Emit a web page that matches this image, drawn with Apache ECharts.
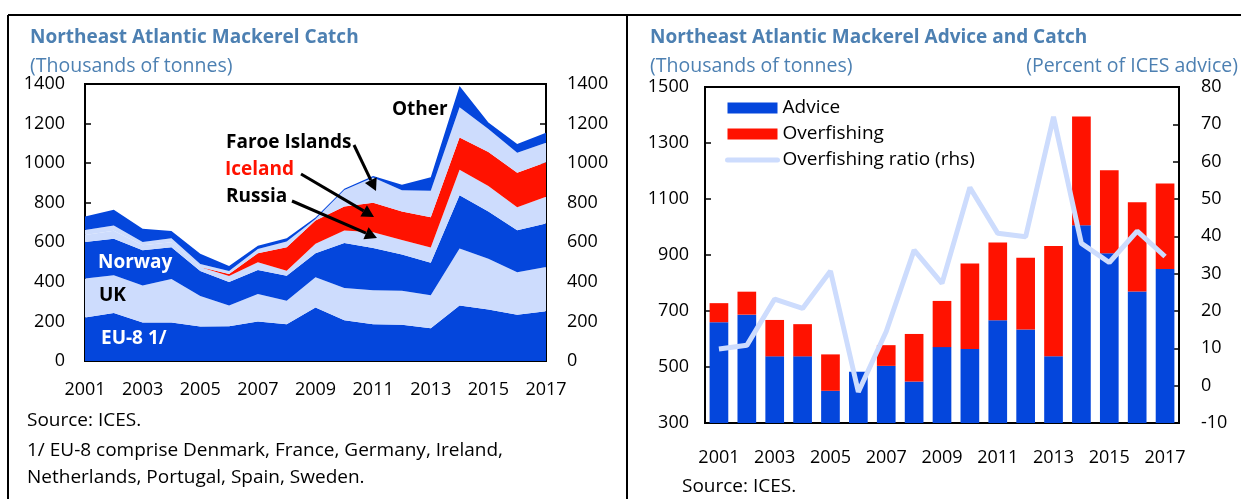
<!DOCTYPE html>
<html>
<head>
<meta charset="utf-8">
<script src="https://cdn.jsdelivr.net/npm/echarts@6/dist/echarts.min.js"></script>
<style>
    html, body { margin: 0; padding: 0; background: #fff; }
    #main { width: 1241px; height: 499px; }
</style>
</head>
<body>
<div id="main"></div>
<script>
// years on both x axes
var years = ['2001', '2002', '2003', '2004', '2005', '2006', '2007', '2008', '2009',
    '2010', '2011', '2012', '2013', '2014', '2015', '2016', '2017'];

// left chart: catch by country (thousands of tonnes), stacked bottom to top
var eu8 = [220, 242, 195, 195, 175, 176, 200, 186, 270, 206, 186, 183, 165, 280, 260, 234, 251];
var uk = [197, 192, 186, 219, 154, 105, 138, 118, 153, 163, 172, 172, 167, 289, 257, 215, 224];
var norway = [185, 184, 179, 161, 126, 118, 122, 127, 121, 228, 213, 183, 164, 269, 238, 212, 220];
var russia = [35, 40, 25, 25, 20, 31, 39, 25, 48, 62, 80, 74, 78, 129, 130, 116, 135];
var iceland = [0, 0, 0, 0, 0, 10, 45, 119, 118, 122, 149, 144, 152, 163, 171, 175, 175];
var faroe = [25, 27, 17, 20, 15, 15, 22, 29, 8, 83, 127, 107, 135, 153, 117, 100, 98];
var other = [68, 79, 67, 37, 52, 25, 17, 16, 7, 7, 8, 28, 68, 107, 33, 45, 50];

// right chart: advice and overfishing (thousands of tonnes), ratio (percent of advice)
var advice = [660, 687, 538, 538, 415, 483, 504, 448, 571, 564, 667, 634, 538, 1006, 906, 770, 850];
var overfishing = [68, 82, 130, 115, 130, 0, 74, 170, 165, 306, 278, 256, 394, 389, 297, 318, 305];
var ratio = [9.8, 10.8, 23.2, 20.7, 30.7, -1.7, 14.5, 36.3, 27.4, 53.1, 40.8, 39.9, 72, 38.1, 33, 41.4, 34.6];

// axis tick labels
var catchTicks = [0, 200, 400, 600, 800, 1000, 1200, 1400];
var adviceTicks = [300, 500, 700, 900, 1100, 1300, 1500];
var ratioTicks = [-10, 0, 10, 20, 30, 40, 50, 60, 70, 80];

var FONT = 'Open Sans';
var DARK = '#0446dc',
    LIGHT = '#cddcfd',
    RED = '#ff1200',
    TITLE = '#4d80b2';

// the bar axis starts at 300, so bars are measured from that base
var adviceBase = adviceTicks[0];

function plain(v) {
    return String(v);
}

function valueAxis(gridIndex, ticks, position, margin, fmt) {
    return {
        type: 'value',
        gridIndex: gridIndex,
        position: position,
        min: ticks[0],
        max: ticks[ticks.length - 1],
        interval: ticks[1] - ticks[0],
        axisLine: { show: false },
        axisTick: { show: true, inside: true, length: 6, lineStyle: { color: '#000', width: 1.5 } },
        splitLine: { show: false },
        axisLabel: {
            margin: margin,
            color: '#000',
            fontFamily: FONT,
            fontSize: 18,
            formatter: fmt || plain
        }
    };
}

function area(name, data, color) {
    return {
        name: name,
        type: 'line',
        stack: 'catch',
        xAxisIndex: 0,
        yAxisIndex: 0,
        data: data,
        symbol: 'none',
        lineStyle: { width: 0 },
        areaStyle: { color: color, opacity: 1 },
        emphasis: { disabled: true }
    };
}

function text(x, y, str, opt) {
    opt = opt || {};
    return {
        type: 'text',
        x: x,
        y: y,
        z: 100,
        style: {
            text: str,
            fill: opt.color || '#000',
            fontFamily: FONT,
            fontSize: opt.size || 19,
            fontWeight: opt.bold ? 'bold' : 'normal',
            align: opt.align || 'left',
            verticalAlign: 'middle'
        }
    };
}

// black arrow: shaft + triangular head
function arrow(x1, y1, x2, y2) {
    var a = Math.atan2(y2 - y1, x2 - x1),
        len = 12,
        w = 6.5,
        bx = x2 - len * Math.cos(a),
        by = y2 - len * Math.sin(a);
    return [{
        type: 'line',
        z: 100,
        shape: { x1: x1, y1: y1, x2: bx, y2: by },
        style: { stroke: '#000', lineWidth: 3 }
    }, {
        type: 'polygon',
        z: 100,
        shape: {
            points: [[x2, y2],
                [bx + w * Math.sin(a), by - w * Math.cos(a)],
                [bx - w * Math.sin(a), by + w * Math.cos(a)]]
        },
        style: { fill: '#000' }
    }];
}

var graphics = [
    // panel frames
    { type: 'line', shape: { x1: 8, y1: 15, x2: 1241, y2: 15 }, style: { stroke: '#000', lineWidth: 2 } },
    { type: 'line', shape: { x1: 8, y1: 15, x2: 8, y2: 499 }, style: { stroke: '#000', lineWidth: 2 } },
    { type: 'line', shape: { x1: 627, y1: 15, x2: 627, y2: 499 }, style: { stroke: '#000', lineWidth: 2 } },
    // left panel titles and notes
    text(30, 38, 'Northeast Atlantic Mackerel Catch', { color: TITLE, bold: true, size: 19 }),
    text(30, 66, '(Thousands of tonnes)', { color: TITLE, size: 19.5 }),
    text(27, 421, 'Source: ICES.'),
    text(27, 451, '1/ EU-8 comprise Denmark, France, Germany, Ireland,'),
    text(27, 478, 'Netherlands, Portugal, Spain, Sweden.'),
    // right panel titles and notes
    text(650, 38, 'Northeast Atlantic Mackerel Advice and Catch', { color: TITLE, bold: true, size: 19 }),
    text(650, 66, '(Thousands of tonnes)', { color: TITLE, size: 19.5 }),
    text(1238, 66, '(Percent of ICES advice)', { color: TITLE, size: 19.5, align: 'right' }),
    text(682, 487, 'Source: ICES.'),
    // area labels
    text(98, 263, 'Norway', { color: '#fff', bold: true }),
    text(99, 296, 'UK', { bold: true }),
    text(101, 339, 'EU-8 1/', { color: '#fff', bold: true }),
    text(226, 143, 'Faroe Islands', { bold: true }),
    text(225, 170, 'Iceland', { color: RED, bold: true }),
    text(226, 197, 'Russia', { bold: true }),
    text(392, 110, 'Other', { bold: true })
]
    .concat(arrow(354, 145, 376, 191))
    .concat(arrow(301, 174, 374, 217))
    .concat(arrow(292, 201, 377, 238));

var chart = echarts.init(document.getElementById('main'));
var option = {
    animation: false,
    textStyle: { fontFamily: FONT },
    grid: [{
        left: 85, top: 84, width: 461, height: 277,
        show: true, borderColor: '#000', borderWidth: 2, backgroundColor: 'transparent'
    }, {
        left: 705, top: 87, width: 474, height: 336,
        show: true, borderColor: '#000', borderWidth: 2, backgroundColor: 'transparent'
    }],
    legend: {
        left: 720,
        top: 93,
        orient: 'vertical',
        itemWidth: 50,
        itemHeight: 11,
        itemGap: 6,
        data: [
            { name: 'Advice', icon: 'rect' },
            { name: 'Overfishing', icon: 'rect' },
            {
                name: 'Overfishing ratio (rhs)',
                itemStyle: { opacity: 0 },
                lineStyle: { width: 5, color: LIGHT, cap: 'round' }
            }
        ],
        textStyle: { color: '#000', fontFamily: FONT, fontSize: 19, lineHeight: 20 }
    },
    xAxis: [{
        type: 'category',
        gridIndex: 0,
        data: years,
        boundaryGap: false,
        axisLine: { show: false },
        axisTick: { inside: true, length: 6, interval: 0, lineStyle: { color: '#000', width: 1.5 } },
        axisLabel: { interval: 1, margin: 20, color: '#000', fontFamily: FONT, fontSize: 18 }
    }, {
        type: 'category',
        gridIndex: 1,
        data: years,
        axisLine: { show: false },
        axisTick: { inside: true, length: 6, interval: 0, lineStyle: { color: '#000', width: 1.5 } },
        axisLabel: { interval: 1, margin: 26, color: '#000', fontFamily: FONT, fontSize: 18 }
    }],
    yAxis: [
        valueAxis(0, catchTicks, 'left', 20),
        valueAxis(0, catchTicks, 'right', 21),
        valueAxis(1, adviceTicks.map(function(v) { return v - adviceBase; }), 'left', 16, function(v) {
            return String(v + adviceBase);
        }),
        valueAxis(1, ratioTicks, 'right', 22)
    ],
    series: [
        area('EU-8', eu8, DARK),
        area('UK', uk, LIGHT),
        area('Norway', norway, DARK),
        area('Russia', russia, LIGHT),
        area('Iceland', iceland, RED),
        area('Faroe Islands', faroe, LIGHT),
        area('Other', other, DARK),
        {
            name: 'Advice',
            type: 'bar',
            stack: 'advice',
            xAxisIndex: 1,
            yAxisIndex: 2,
            barCategoryGap: '33%',
            itemStyle: { color: DARK },
            data: advice.map(function(v) { return v - adviceBase; })
        },
        {
            name: 'Overfishing',
            type: 'bar',
            stack: 'advice',
            xAxisIndex: 1,
            yAxisIndex: 2,
            barCategoryGap: '33%',
            itemStyle: { color: RED },
            data: overfishing
        },
        {
            name: 'Overfishing ratio (rhs)',
            type: 'line',
            xAxisIndex: 1,
            yAxisIndex: 3,
            symbol: 'none',
            z: 5,
            lineStyle: { color: LIGHT, width: 5 },
            itemStyle: { color: LIGHT },
            data: ratio
        }
    ],
    graphic: graphics
};
chart.setOption(option);
</script>
</body>
</html>
